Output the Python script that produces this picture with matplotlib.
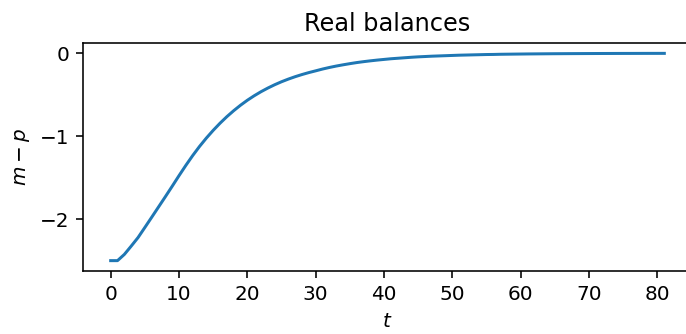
import matplotlib
matplotlib.use("Agg")
import matplotlib.pyplot as plt

t = list(range(82))
m_minus_p = [
    -2.500, -2.500, -2.425, -2.325, -2.222, -2.100, -1.977, -1.853, -1.729, -1.603,
    -1.475, -1.351, -1.233, -1.123, -1.022, -0.929, -0.843, -0.764, -0.692, -0.626,
    -0.566, -0.512, -0.463, -0.419, -0.379, -0.343, -0.311, -0.282, -0.256, -0.2325,
    -0.2115, -0.190, -0.171, -0.154, -0.139, -0.125, -0.112, -0.101, -0.091, -0.082,
    -0.074, -0.066, -0.060, -0.054, -0.048, -0.043, -0.039, -0.035, -0.032, -0.029,
    -0.026, -0.023, -0.021, -0.019, -0.017, -0.015, -0.014, -0.012, -0.011, -0.010,
    -0.009, -0.008, -0.0073, -0.0066, -0.0059, -0.0053, -0.0048, -0.0043, -0.0039, -0.0035,
    -0.0031, -0.0028, -0.0025, -0.0023, -0.0020, -0.0018, -0.0017, -0.0015, -0.0013, -0.0012,
    -0.0011, -0.0010,
]

DPI = 144
fig = plt.figure(figsize=(686/DPI, 334/DPI), dpi=DPI)
ax = fig.add_axes([83/686, 1-271/334, (692-83)/686, (271-43)/334])
ax.plot(t, m_minus_p, color='#1f77b4', linewidth=1.5)
ax.set_title('Real balances')
ax.set_xlabel('$t$')
ax.set_ylabel('$m - p$')
ax.set_xticks([0, 10, 20, 30, 40, 50, 60, 70, 80])
ax.set_yticks([0, -1, -2])
fig.savefig('out.png', dpi=DPI)
